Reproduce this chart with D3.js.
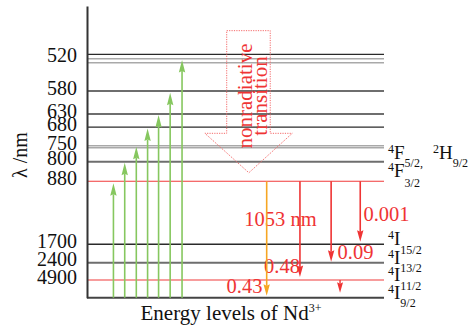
<!DOCTYPE html>
<html>
<head>
<meta charset="utf-8">
<script src="https://cdn.jsdelivr.net/npm/d3@7"></script>
<style>
  html, body { margin: 0; padding: 0; background: #fff; }
  svg { display: block; }
</style>
</head>
<body>
<svg id="chart" width="471" height="328"></svg>
<script>
// ---------- data ----------
// wavelength tick labels and the relative energy (arb. units) each refers to
const tickLabels = ["520", "580", "630", "680", "750", "800", "880", "1700", "2400", "4900"];
const tickEnergy = [19.09, 16.51, 14.67, 13.63, 12.06, 10.86, 9.3, 4.27, 2.8, 1.41];

// every horizontal level line: relative energy and its line kind
const lineEnergy = [19.44, 19.09, 18.77, 16.51, 14.67, 13.63, 12.14, 11.98, 10.86, 9.3, 4.27, 2.8, 1.41, 0];
const lineKind   = ["dark", "light", "light", "mid", "mid", "dark", "light", "light", "mid", "red", "dark", "mid", "red", "ground"];

// green pump arrows (from ground state up)
const pumpColumn = [8.9, 12.7, 16.6, 20.4, 24.1, 28.0, 32.0];
const pumpTop    = [9.14, 10.78, 12.05, 13.51, 14.59, 16.37, 18.98];

// emission arrows from 4F3/2 down
const emitColumn = [60.5, 71.7, 82.2, 92.0];
const emitFrom   = [9.3, 9.3, 9.3, 9.3];
const emitTo     = [0.15, 1.65, 2.87, 4.46];
const emitColor  = ["orange", "red", "red", "red"];
// relaxation arrow 4I11/2 -> 4I9/2
const relaxColumn = [85.2];
const relaxFrom   = [1.41];
const relaxTo     = [0.4];

// branching labels
const branchLabels = ["1053 nm", "0.001", "0.09", "0.48", "0.43"];

// right-hand term symbols: [superscript, letter, subscript]
const termLabels = [
  [["4", "F", "5/2,"], ["2", "H", "9/2"]],
  [["4", "F", "3/2"]],
  [["4", "I", "15/2"]],
  [["4", "I", "13/2"]],
  [["4", "I", "11/2"]],
  [["4", "I", "9/2"]]
];
const termEnergy = [10.86, 9.3, 4.27, 2.8, 1.41, 0];

const yLabel = "λ /nm";
const xLabel = "Energy levels of Nd";
const xLabelSup = "3+";
const nonradText = ["nonradiative", "transition"];

// ---------- drawing ----------
const FONT = '"Liberation Serif"';
const svg = d3.select("#chart");
const y = d3.scaleLinear().domain([0, 23.3]).range([297.7, 6]);
const x = d3.scaleLinear().domain([0, 100]).range([87, 384]);

const RED = "#ef3434", ORANGE = "#f6a623", GREEN = "#86c75f";
const styles = {
  dark:   { stroke: "#2a2a2a", w: 1.3 },
  light:  { stroke: "#a9a9a9", w: 1.4 },
  mid:    { stroke: "#6e6e6e", w: 2 },
  red:    { stroke: "#f03a3a", w: 1.1 },
  ground: { stroke: "#444", w: 2 }
};

// level lines
svg.append("g").selectAll("line").data(lineEnergy).join("line")
  .attr("x1", x(0)).attr("x2", x(100))
  .attr("y1", d => y(d)).attr("y2", d => y(d))
  .attr("stroke", (d, i) => styles[lineKind[i]].stroke)
  .attr("stroke-width", (d, i) => styles[lineKind[i]].w);

// y axis with wavelength labels
const yAxis = d3.axisLeft(y)
  .tickValues(tickEnergy)
  .tickFormat((d, i) => tickLabels[i])
  .tickSize(0).tickSizeOuter(0).tickPadding(10);
const gy = svg.append("g").attr("transform", `translate(${x(0)},0)`).call(yAxis);
gy.select(".domain").attr("stroke", "#333").attr("stroke-width", 2);
gy.selectAll("text").attr("dy", "0.15em").attr("fill", "#111").style("font-size", "20px");

// nonradiative hollow arrow (dotted)
const nrPts = [[47.04, 21.33], [61.7, 21.33], [61.7, 13.13], [69.1, 13.13], [54.5, 9.98], [39.7, 13.13], [47.04, 13.13]];
svg.append("path")
  .attr("d", d3.line().x(p => x(p[0])).y(p => y(p[1])).curve(d3.curveLinearClosed)(nrPts))
  .attr("fill", "none").attr("stroke", "#f46a6a").attr("stroke-width", 1)
  .attr("stroke-dasharray", "1.2,1.2");
const nrText = svg.append("g");
[[252, nonradText[0]], [266.5, nonradText[1]]].forEach(([bx, t]) => {
  nrText.append("text")
    .attr("transform", `translate(${bx},96) rotate(-90)`)
    .attr("text-anchor", "middle").style("font-size", "21px")
    .attr("fill", RED).text(t);
});

// arrow helper
function arrow(g, xc, e0, e1, color, w, headLen, headW) {
  const x0 = x(xc), y0 = y(e0), y1 = y(e1);
  const dir = y1 < y0 ? 1 : -1; // 1 = upward
  const base = y1 + dir * headLen;
  g.append("line").attr("x1", x0).attr("x2", x0).attr("y1", y0).attr("y2", base)
    .attr("stroke", color).attr("stroke-width", w);
  g.append("path")
    .attr("d", `M${x0},${y1} L${x0 + headW},${base + dir * 1.5} L${x0},${base} L${x0 - headW},${base + dir * 1.5} Z`)
    .attr("fill", color);
}

// branching labels (under arrows)
const bl = svg.append("g");
const blPos = [[280.5, 225.5], [386.5, 221], [355.5, 259], [282, 273], [244.5, 293]];
branchLabels.forEach((t, i) => {
  bl.append("text").attr("x", blPos[i][0]).attr("y", blPos[i][1])
    .attr("fill", RED).style("font-size", "20.5px")
    .attr("text-anchor", "middle").text(t);
});

// green pump arrows
const gp = svg.append("g");
pumpColumn.forEach((c, i) => arrow(gp, c, 0, pumpTop[i], GREEN, 1.6, 11, 3.2));

// emission arrows
const ge = svg.append("g");
emitColumn.forEach((c, i) => arrow(ge, c, emitFrom[i], emitTo[i],
  emitColor[i] === "orange" ? ORANGE : RED, 1.6, 10, 3.2));
relaxColumn.forEach((c, i) => arrow(ge, c, relaxFrom[i], relaxTo[i], RED, 1.4, 9, 3));

// term symbols on the right
const tg = svg.append("g");
const termDy = [-3, -4, 1, 1, 1, 1];
const subDy = [8, 10, 8.5, 8.5, 8.5, 8.5];
termLabels.forEach((parts, i) => {
  const base = y(termEnergy[i]) + termDy[i];
  const t = tg.append("text").attr("x", 388).attr("y", base).attr("fill", "#111")
    .style("font-size", "19px");
  parts.forEach((p, j) => {
    const sup = t.append("tspan").style("font-size", "12px").attr("y", base - 6).text(p[0]);
    if (j > 0) sup.attr("x", 433);
    t.append("tspan").style("font-size", "19px").attr("y", base).text(p[1]);
    t.append("tspan").style("font-size", "12px").attr("y", base + subDy[i]).text(p[2]);
  });
});

// axis titles
svg.append("text")
  .attr("transform", "translate(27,155) rotate(-90)")
  .attr("text-anchor", "middle").style("font-size", "20px").attr("fill", "#111")
  .text(yLabel);
const xt = svg.append("text").attr("x", 231).attr("y", 320)
  .attr("text-anchor", "middle").style("font-size", "21px").attr("fill", "#111");
xt.append("tspan").text(xLabel);
xt.append("tspan").style("font-size", "12px").attr("dy", -8).text(xLabelSup);

// serif font on every text (inline style)
svg.selectAll("text, tspan").style("font-family", FONT);
</script>
</body>
</html>
